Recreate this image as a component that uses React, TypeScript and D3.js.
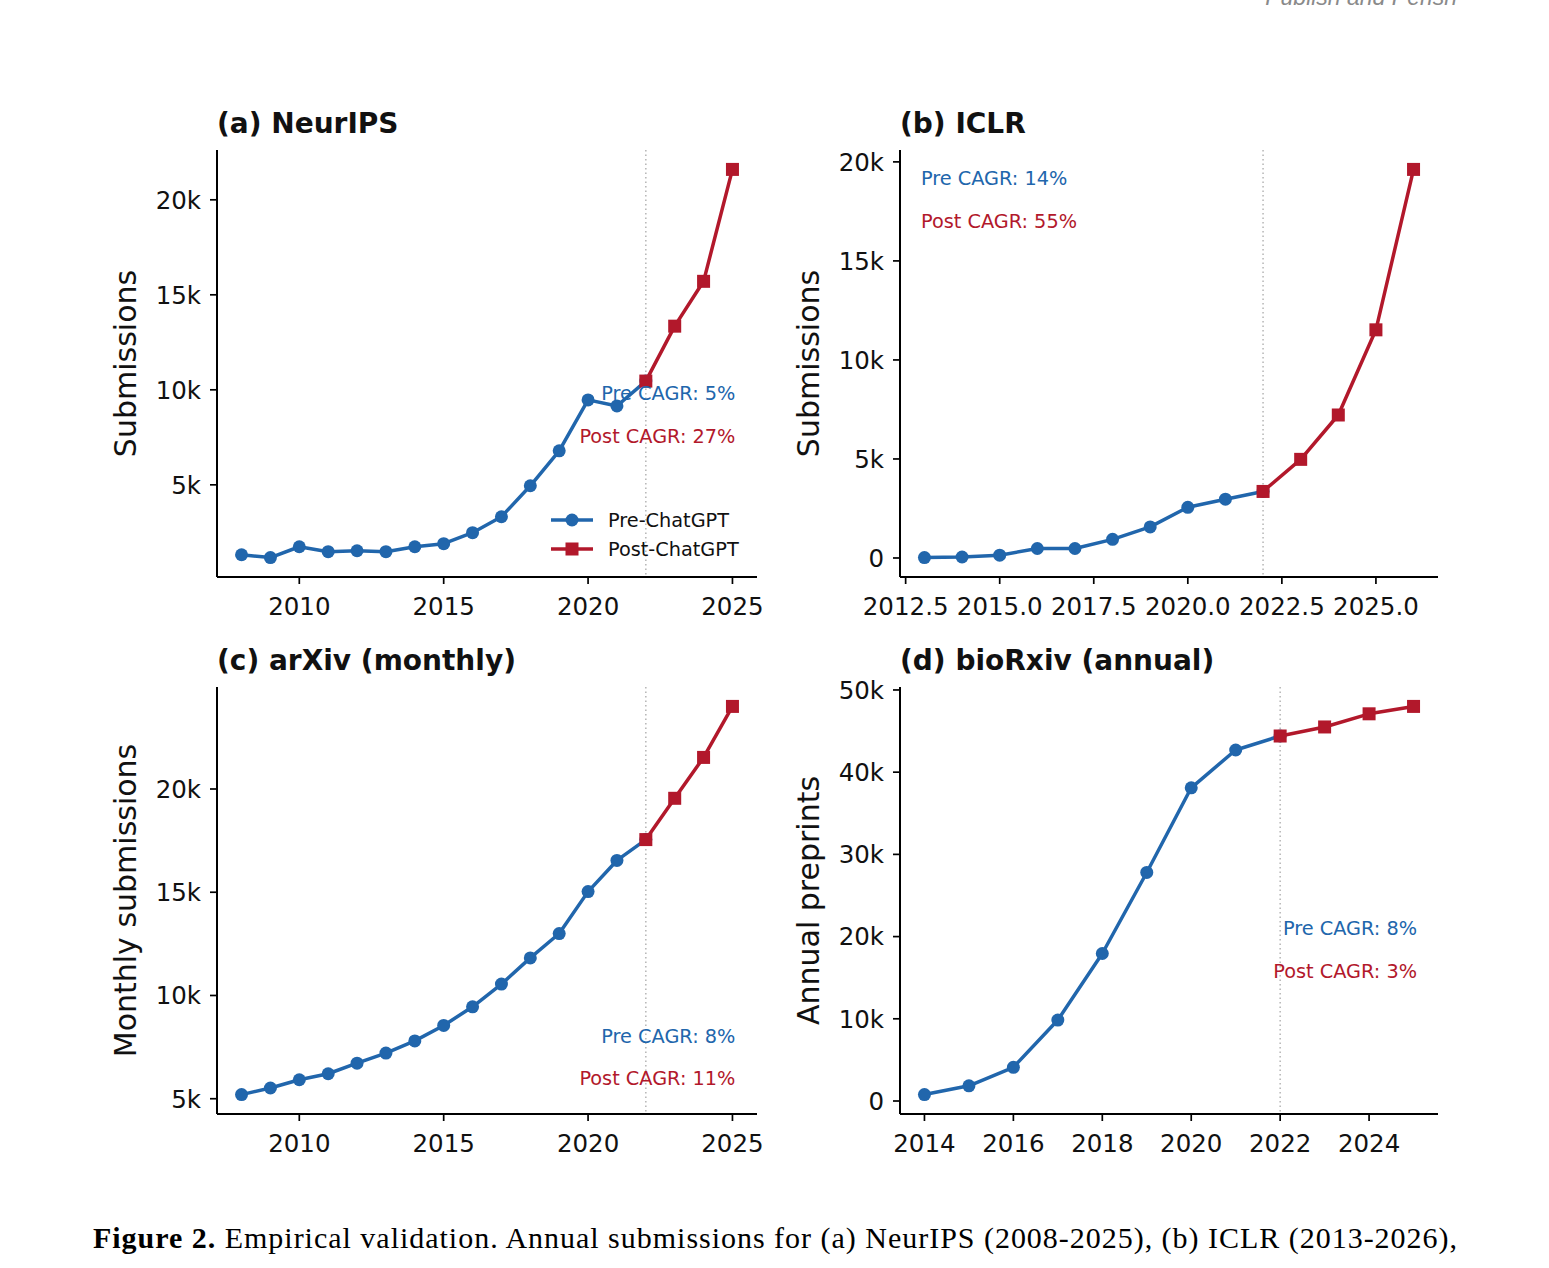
import React from "react";
import * as d3 from "d3";

// ---------- data ----------
const neuripsYears = [2008, 2009, 2010, 2011, 2012, 2013, 2014, 2015, 2016, 2017, 2018, 2019, 2020, 2021, 2022, 2023, 2024, 2025];
const neuripsValues = [1320, 1170, 1740, 1480, 1530, 1480, 1740, 1900, 2480, 3320, 4950, 6790, 9470, 9150, 10460, 13350, 15710, 21600];

const iclrYears = [2013, 2014, 2015, 2016, 2017, 2018, 2019, 2020, 2021, 2022, 2023, 2024, 2025, 2026];
const iclrValues = [20, 50, 140, 480, 480, 940, 1570, 2560, 2970, 3360, 4980, 7220, 11520, 19620];

const arxivYears = [2008, 2009, 2010, 2011, 2012, 2013, 2014, 2015, 2016, 2017, 2018, 2019, 2020, 2021, 2022, 2023, 2024, 2025];
const arxivValues = [5200, 5520, 5920, 6210, 6720, 7210, 7800, 8550, 9450, 10550, 11820, 13000, 15030, 16540, 17550, 19550, 21530, 24000];

const biorxivYears = [2014, 2015, 2016, 2017, 2018, 2019, 2020, 2021, 2022, 2023, 2024, 2025];
const biorxivValues = [780, 1850, 4100, 9850, 17940, 27800, 38100, 42700, 44400, 45500, 47100, 48000];

const neuripsXTicks = [2010, 2015, 2020, 2025];
const neuripsYTicks = [5000, 10000, 15000, 20000];
const iclrXTicks = [2012.5, 2015.0, 2017.5, 2020.0, 2022.5, 2025.0];
const iclrYTicks = [0, 5000, 10000, 15000, 20000];
const arxivXTicks = [2010, 2015, 2020, 2025];
const arxivYTicks = [5000, 10000, 15000, 20000];
const biorxivXTicks = [2014, 2016, 2018, 2020, 2022, 2024];
const biorxivYTicks = [0, 10000, 20000, 30000, 40000, 50000];

const cutoffYear = 2022;
const preCagr = ["Pre CAGR: 5%", "Pre CAGR: 14%", "Pre CAGR: 8%", "Pre CAGR: 8%"];
const postCagr = ["Post CAGR: 27%", "Post CAGR: 55%", "Post CAGR: 11%", "Post CAGR: 3%"];
const titles = ["(a) NeurIPS", "(b) ICLR", "(c) arXiv (monthly)", "(d) bioRxiv (annual)"];
const yLabels = ["Submissions", "Submissions", "Monthly submissions", "Annual preprints"];
const legendLabels = ["Pre-ChatGPT", "Post-ChatGPT"];

// ---------- style ----------
const BLUE = "#2166ac";
const RED = "#b2182b";
const FONT = "DejaVu Sans, sans-serif";

type PanelSpec = {
  years: number[];
  values: number[];
  xTicks: number[];
  yTicks: number[];
  xFmt: (v: number) => string;
  title: string;
  yLabel: string;
  pre: string;
  post: string;
  left: number;
  top: number;
  annX: number;
  annAnchor: "start" | "end";
  preY: number;
  postY: number;
  legend: boolean;
};

const W = 540;
const H = 427;
const TICK_FS = 24.5;

const kFmt = (v: number) => (v === 0 ? "0" : `${v / 1000}k`);

function pad(ext: [number, number]): [number, number] {
  const r = ext[1] - ext[0];
  return [ext[0] - 0.05 * r, ext[1] + 0.05 * r];
}

function Panel({ p }: { p: PanelSpec }) {
  const w = p.left < 800 ? W : 538;
  const x = d3.scaleLinear().domain(pad(d3.extent(p.years) as [number, number])).range([0, w]);
  const y = d3.scaleLinear().domain(pad(d3.extent(p.values) as [number, number])).range([H, 0]);
  const pts = p.years.map((yr, i) => ({ yr, v: p.values[i] }));
  const prePts = pts.filter((d) => d.yr <= cutoffYear);
  const postPts = pts.filter((d) => d.yr >= cutoffYear);
  const line = d3
    .line<{ yr: number; v: number }>()
    .x((d) => x(d.yr))
    .y((d) => y(d.v));
  const sq = 13;
  return (
    <g transform={`translate(${p.left},${p.top})`}>
      {/* cutoff line */}
      <line x1={x(cutoffYear)} x2={x(cutoffYear)} y1={0} y2={H} stroke="#b5b5b5" strokeWidth={1.5} strokeDasharray="1.5,3" />
      {/* pre */}
      <path d={line(prePts) || ""} fill="none" stroke={BLUE} strokeWidth={3.5} strokeLinejoin="round" />
      {prePts.map((d, i) => (
        <circle key={`c${i}`} cx={x(d.yr)} cy={y(d.v)} r={6.5} fill={BLUE} />
      ))}
      {/* post */}
      <path d={line(postPts) || ""} fill="none" stroke={RED} strokeWidth={3.5} strokeLinejoin="round" />
      {postPts.map((d, i) => (
        <rect key={`s${i}`} x={x(d.yr) - sq / 2} y={y(d.v) - sq / 2} width={sq} height={sq} fill={RED} />
      ))}
      {/* spines */}
      <line x1={0} x2={0} y1={0} y2={H} stroke="#000" strokeWidth={2} />
      <line x1={0} x2={w} y1={H} y2={H} stroke="#000" strokeWidth={2} />
      {/* x ticks */}
      {p.xTicks.map((t) => (
        <g key={`xt${t}`} transform={`translate(${x(t)},${H})`}>
          <line y1={0} y2={7} stroke="#000" strokeWidth={1.7} />
          <text y={38} textAnchor="middle" fontFamily={FONT} fontSize={TICK_FS} fill="#111">
            {p.xFmt(t)}
          </text>
        </g>
      ))}
      {/* y ticks */}
      {p.yTicks.map((t) => (
        <g key={`yt${t}`} transform={`translate(0,${y(t)})`}>
          <line x1={-7} x2={0} stroke="#000" strokeWidth={1.7} />
          <text x={-16} dy="0.36em" textAnchor="end" fontFamily={FONT} fontSize={TICK_FS} fill="#111">
            {kFmt(t)}
          </text>
        </g>
      ))}
      {/* y label */}
      <text transform={`translate(-92,${H / 2}) rotate(-90)`} textAnchor="middle" dy="0.36em" fontFamily={FONT} fontSize={30} fill="#111">
        {p.yLabel}
      </text>
      {/* title */}
      <text x={0} y={-17} fontFamily={FONT} fontWeight="bold" fontSize={28} fill="#111">
        {p.title}
      </text>
      {/* annotations */}
      <text x={p.annX * w} y={H - p.preY * H} dy="0.36em" textAnchor={p.annAnchor} fontFamily={FONT} fontSize={19.3} fill={BLUE}>
        {p.pre}
      </text>
      <text x={p.annX * w} y={H - p.postY * H} dy="0.36em" textAnchor={p.annAnchor} fontFamily={FONT} fontSize={19.3} fill={RED}>
        {p.post}
      </text>
      {p.legend && (
        <g transform={`translate(334,${H - 57})`}>
          <line x1={0} x2={42} y1={0} y2={0} stroke={BLUE} strokeWidth={3.5} />
          <circle cx={21} cy={0} r={6.5} fill={BLUE} />
          <text x={57} dy="0.36em" fontFamily={FONT} fontSize={19.3} fill="#111">
            {legendLabels[0]}
          </text>
          <line x1={0} x2={42} y1={29} y2={29} stroke={RED} strokeWidth={3.5} />
          <rect x={21 - sq / 2} y={29 - sq / 2} width={sq} height={sq} fill={RED} />
          <text x={57} y={29} dy="0.36em" fontFamily={FONT} fontSize={19.3} fill="#111">
            {legendLabels[1]}
          </text>
        </g>
      )}
    </g>
  );
}

export default function App() {
  const intFmt = (v: number) => `${v}`;
  const fixFmt = (v: number) => v.toFixed(1);
  const panels: PanelSpec[] = [
    { years: neuripsYears, values: neuripsValues, xTicks: neuripsXTicks, yTicks: neuripsYTicks, xFmt: intFmt, title: titles[0], yLabel: yLabels[0], pre: preCagr[0], post: postCagr[0], left: 217, top: 150, annX: 0.96, annAnchor: "end", preY: 0.431, postY: 0.33, legend: true },
    { years: iclrYears, values: iclrValues, xTicks: iclrXTicks, yTicks: iclrYTicks, xFmt: fixFmt, title: titles[1], yLabel: yLabels[1], pre: preCagr[1], post: postCagr[1], left: 900, top: 150, annX: 0.039, annAnchor: "start", preY: 0.934, postY: 0.834, legend: false },
    { years: arxivYears, values: arxivValues, xTicks: arxivXTicks, yTicks: arxivYTicks, xFmt: intFmt, title: titles[2], yLabel: yLabels[2], pre: preCagr[2], post: postCagr[2], left: 217, top: 687, annX: 0.96, annAnchor: "end", preY: 0.183, postY: 0.084, legend: false },
    { years: biorxivYears, values: biorxivValues, xTicks: biorxivXTicks, yTicks: biorxivYTicks, xFmt: intFmt, title: titles[3], yLabel: yLabels[3], pre: preCagr[3], post: postCagr[3], left: 900, top: 687, annX: 0.961, annAnchor: "end", preY: 0.436, postY: 0.335, legend: false },
  ];
  return (
    <svg width={1549} height={1268} style={{ position: "absolute", left: 0, top: 0, background: "#fff" }}>
      <rect width={1549} height={1268} fill="#fff" />
      <text x={1457} y={5} textAnchor="end" fontFamily="Liberation Sans, Arial, sans-serif" fontStyle="italic" fontSize={23} fill="#8a8a8a">
        Publish and Perish
      </text>
      {panels.map((p, i) => (
        <Panel key={i} p={p} />
      ))}
      <text x={93} y={1248} fontFamily="Liberation Serif, Times New Roman, serif" fontSize={30} fill="#000" textLength={1364} lengthAdjust="spacing">
        <tspan fontWeight="bold">Figure 2.</tspan>
        <tspan> Empirical validation. Annual submissions for (a) NeurIPS (2008-2025), (b) ICLR (2013-2026),</tspan>
      </text>
    </svg>
  );
}
